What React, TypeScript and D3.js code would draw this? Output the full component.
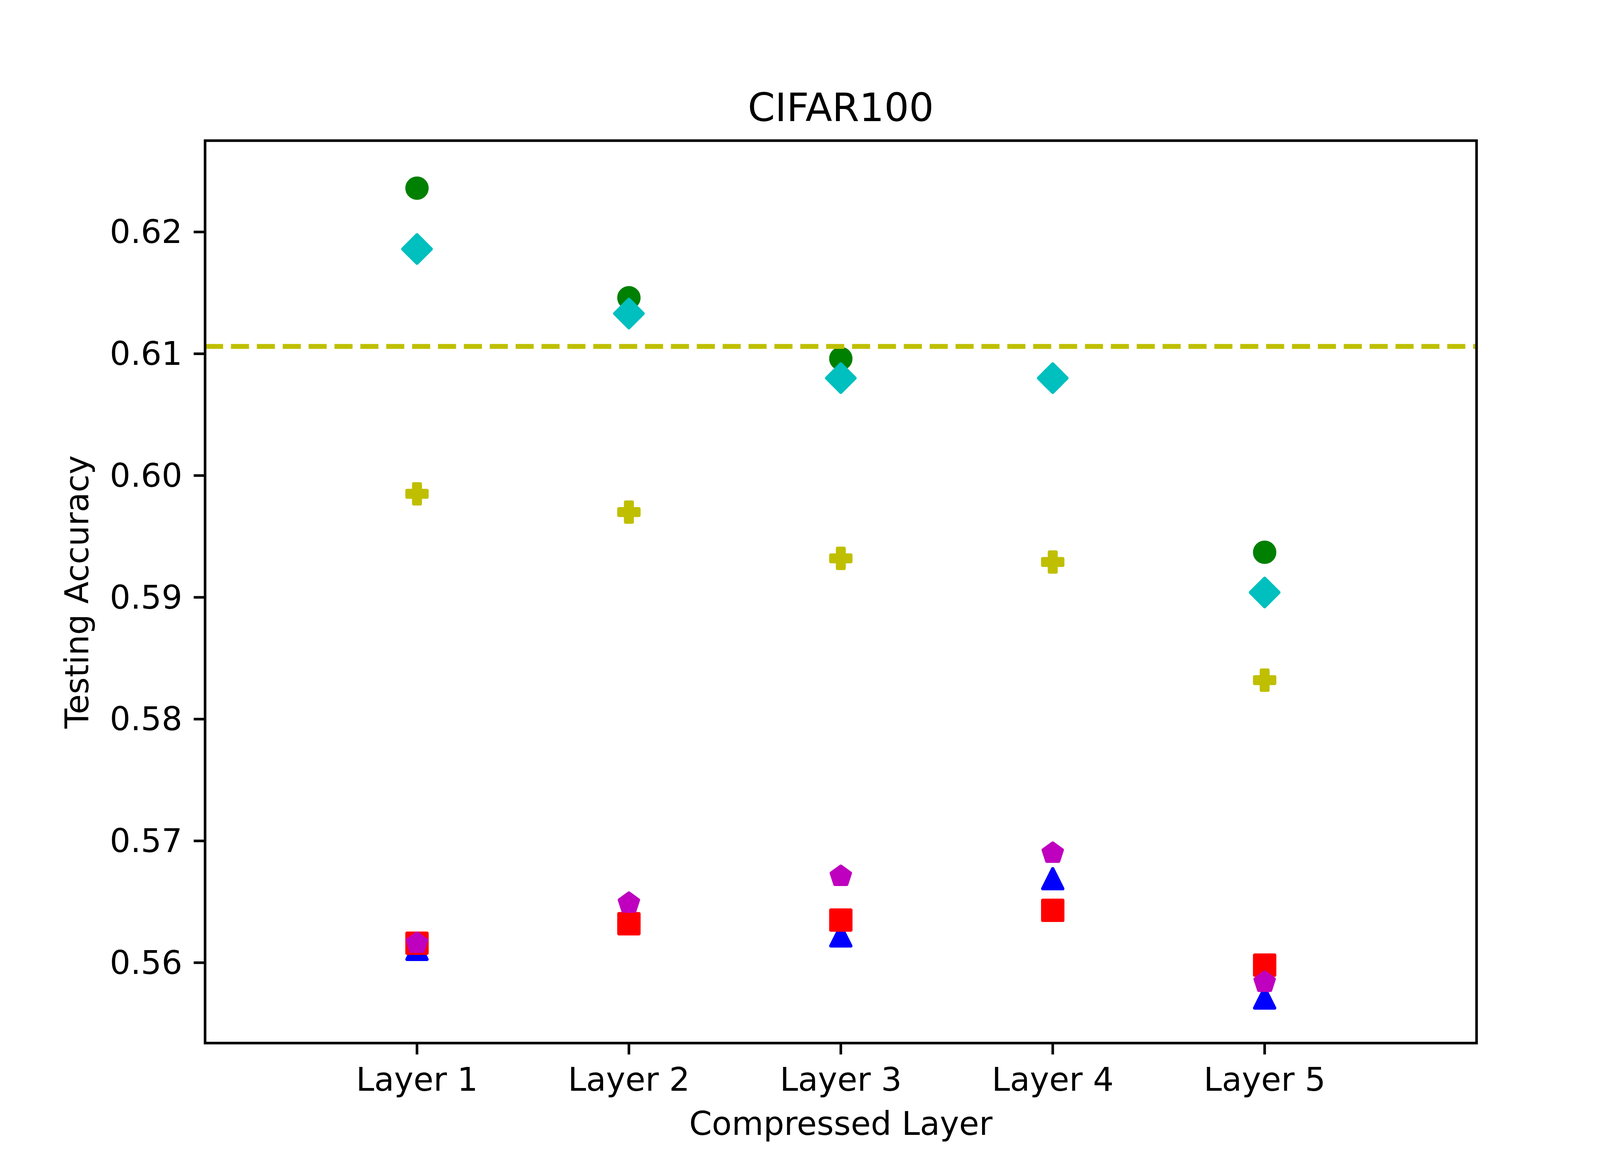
import React from 'react'
import * as d3 from 'd3'

// categories and values
const layers = ['Layer 1', 'Layer 2', 'Layer 3', 'Layer 4', 'Layer 5']
const layerPos = [1, 2, 3, 4, 5]
const yTicks = [0.56, 0.57, 0.58, 0.59, 0.6, 0.61, 0.62]
const baselineAcc = 0.6106

const blueVals = [0.5611, 0.5642, 0.5622, 0.5669, 0.5571]
const redVals = [0.5616, 0.5632, 0.5635, 0.5643, 0.5598]
const magentaVals = [0.5616, 0.5649, 0.5671, 0.569, 0.5584]
const yellowVals = [0.5985, 0.597, 0.5932, 0.5929, 0.5832]
const greenVals = [0.6236, 0.6146, 0.6096, 0.608, 0.5937]
const cyanVals = [0.6186, 0.6133, 0.608, 0.608, 0.5904]

const W = 4200
const H = 3000
const margin = { left: 525, right: 420, top: 360, bottom: 330 }
const DPI = 600 / 72 // px per pt
const font = 'DejaVu Sans'

// marker outlines in units of marker size (svg y down), like matplotlib's
const pentagon = d3.range(5).map((k) => {
  const a = ((90 + 72 * k) * Math.PI) / 180
  return [0.5 * Math.cos(a), -0.5 * Math.sin(a)]
})
const shapes = {
  square: [[-0.5, -0.5], [0.5, -0.5], [0.5, 0.5], [-0.5, 0.5]],
  triangle: [[0, -0.5], [0.5, 0.5], [-0.5, 0.5]],
  pentagon,
  plus: [[-1, -3], [1, -3], [1, -1], [3, -1], [3, 1], [1, 1], [1, 3], [-1, 3], [-1, 1], [-3, 1], [-3, -1], [-1, -1]].map(
    ([a, b]) => [a / 6, b / 6]
  ),
  diamond: [[0, -0.7071], [0.7071, 0], [0, 0.7071], [-0.7071, 0]]
}

const series = [
  { color: '#0000ff', marker: 'triangle', values: blueVals },
  { color: '#ff0000', marker: 'square', values: redVals },
  { color: '#bf00bf', marker: 'pentagon', values: magentaVals },
  { color: '#bfbf00', marker: 'plus', values: yellowVals },
  { color: '#008000', marker: 'circle', values: greenVals },
  { color: '#00bfbf', marker: 'diamond', values: cyanVals }
]

const Marker = ({ kind, x, y, color, size }) => {
  const edge = 1 * DPI
  if (kind === 'circle') {
    return <circle cx={x} cy={y} r={size / 2} fill={color} stroke={color} strokeWidth={edge} />
  }
  const pts = shapes[kind].map(([a, b]) => [x + a * size, y + b * size])
  const d = d3.line()(pts) + 'Z'
  return <path d={d} fill={color} stroke={color} strokeWidth={edge} strokeLinejoin="round" />
}

const App = () => {
  const x = d3.scaleLinear().domain([0, 6]).range([margin.left, W - margin.right])
  const y = d3.scaleLinear().domain([0.5534, 0.6275]).range([H - margin.bottom, margin.top])
  const fmt = d3.format('.2f')

  const left = margin.left
  const right = W - margin.right
  const top = margin.top
  const bottom = H - margin.bottom
  const tickLen = 3.5 * DPI
  const tickPad = 3.5 * DPI
  const axisW = 0.8 * DPI
  const tickFont = 10 * DPI
  const msize = 6 * DPI + 1.5

  return (
    <svg
      width={W}
      height={H}
      viewBox={`0 0 ${W} ${H}`}
      style={{ position: 'absolute', left: 0, top: 0, background: '#fff' }}
    >
      <rect x={0} y={0} width={W} height={H} fill="#fff" />

      {/* markers */}
      <g>
        {series.map((s, si) =>
          s.values.map((v, i) => (
            <Marker
              key={si + '-' + i}
              kind={s.marker}
              x={x(layerPos[i])}
              y={y(v)}
              color={s.color}
              size={msize}
            />
          ))
        )}
      </g>

      {/* reference line */}
      <line
        x1={left}
        x2={right}
        y1={y(baselineAcc)}
        y2={y(baselineAcc)}
        stroke="#bfbf00"
        strokeWidth={1.5 * DPI}
        strokeDasharray={`${5.55 * DPI} ${2.4 * DPI}`}
      />

      {/* frame */}
      <rect
        x={left}
        y={top}
        width={right - left}
        height={bottom - top}
        fill="none"
        stroke="#000"
        strokeWidth={axisW}
        strokeLinecap="square"
      />

      {/* y axis */}
      <g>
        {yTicks.map((t) => (
          <g key={t}>
            <line x1={left - tickLen} x2={left} y1={y(t)} y2={y(t)} stroke="#000" strokeWidth={axisW} />
            <text
              x={left - tickLen - tickPad}
              y={y(t)}
              textAnchor="end"
              dominantBaseline="central"
              fontFamily={font}
              fontSize={tickFont}
            >
              {fmt(t)}
            </text>
          </g>
        ))}
      </g>

      {/* x axis */}
      <g>
        {layers.map((l, i) => (
          <g key={l}>
            <line
              x1={x(layerPos[i])}
              x2={x(layerPos[i])}
              y1={bottom}
              y2={bottom + tickLen}
              stroke="#000"
              strokeWidth={axisW}
            />
            <text
              x={x(layerPos[i])}
              y={bottom + tickLen + tickPad + 0.76 * tickFont}
              textAnchor="middle"
              fontFamily={font}
              fontSize={tickFont}
            >
              {l}
            </text>
          </g>
        ))}
      </g>

      <text x={(left + right) / 2} y={2905} textAnchor="middle" fontFamily={font} fontSize={tickFont}>
        Compressed Layer
      </text>
      <text
        transform={`translate(226,${(top + bottom) / 2}) rotate(-90)`}
        textAnchor="middle"
        fontFamily={font}
        fontSize={tickFont}
      >
        Testing Accuracy
      </text>
      <text x={(left + right) / 2} y={top - 6 * DPI} textAnchor="middle" fontFamily={font} fontSize={12 * DPI}>
        CIFAR100
      </text>
    </svg>
  )
}

export default App
